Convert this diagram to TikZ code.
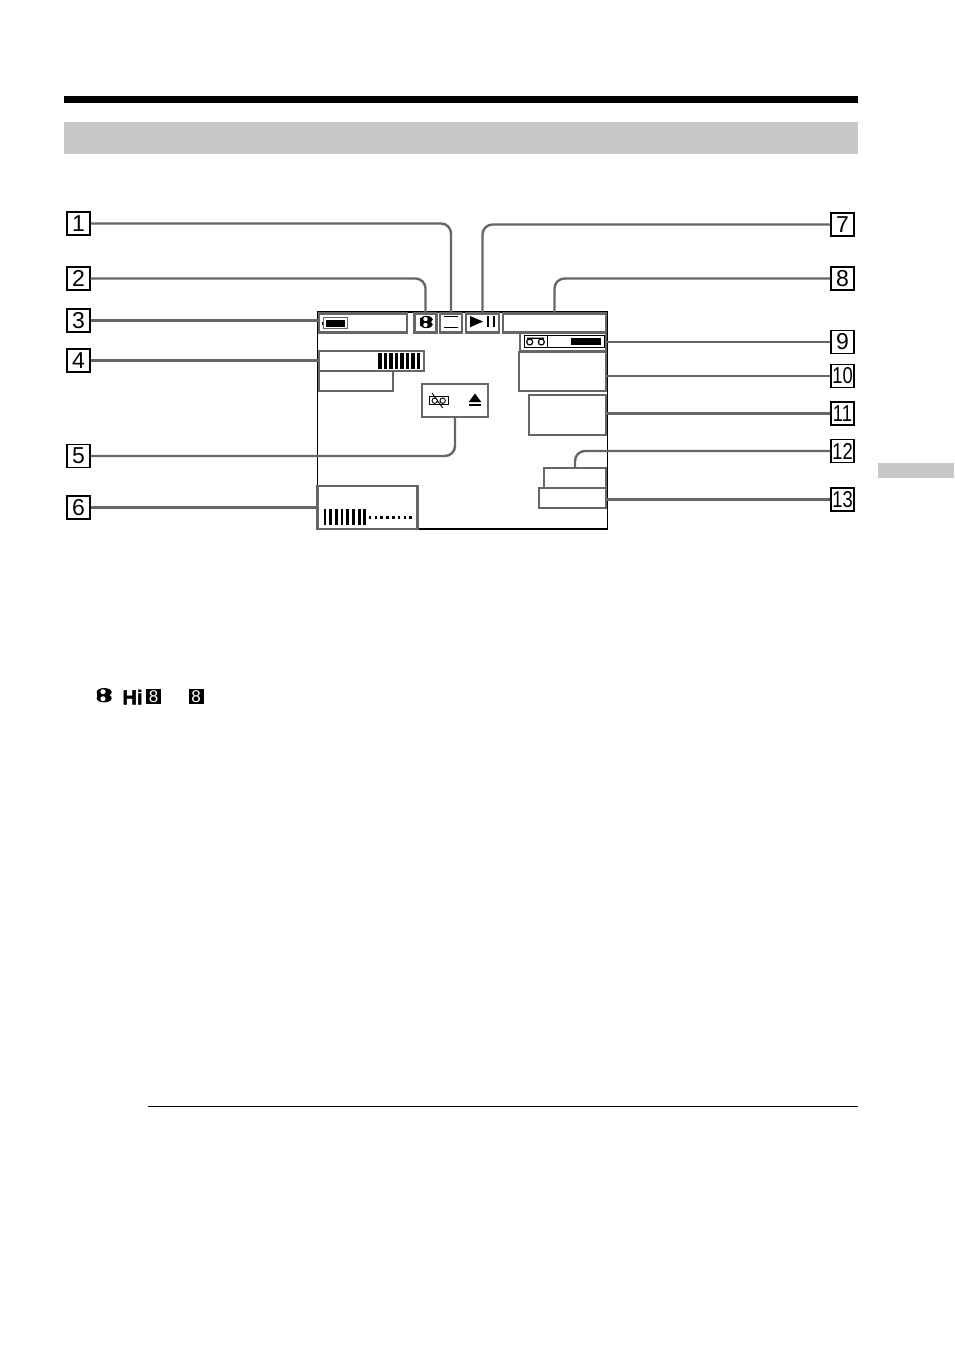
\documentclass[tikz,border=0pt]{standalone}
\usepackage{graphicx}
\usepackage{fontspec}
\setmainfont{Liberation Sans}
\newfontfamily\hifont[BoldFeatures={FakeBold=2.5}]{Liberation Sans}
\usepackage{tikz}
\usetikzlibrary{positioning}
\definecolor{panelgrey}{HTML}{666666}
\definecolor{bandgrey}{HTML}{C8C8C8}
\newcommand{\hieightmark}[3]{%
\begin{scope}[shift={(#1,#2)},scale=#3]
\fill[black] (-7.5,-4.5) rectangle (0,4.5);
\fill[black] (0,-3) ellipse (7.5 and 4.2);
\fill[black] (0,3) ellipse (7.5 and 4.2);
\fill[white] (-1.2,-3.5) ellipse (2.6 and 2.5);
\fill[white] (-1.2,3.5) ellipse (2.6 and 2.5);
\end{scope}}
\begin{document}
\begin{tikzpicture}[x=1pt,y=-1pt,
labelbox/.style={draw=black,line width=1.2pt,fill=white,inner sep=0pt,
minimum width=23pt,minimum height=23pt,font=\fontsize{23}{23}\selectfont},
panel/.style={draw=panelgrey,line width=2.6pt,inner sep=0pt,outer sep=0pt,anchor=north west},
leader/.style={draw=panelgrey,line width=2.4pt,rounded corners=10pt},
eightbox/.style={fill=black,text=white,inner sep=0pt,minimum width=15pt,minimum height=15pt,
font=\fontsize{17}{17}\selectfont}
]
\fill[white] (0,0) rectangle (954,1355);
\useasboundingbox (0,0) rectangle (954,1355);
% page furniture
\fill[black] (64,96) rectangle (858,103);
\fill[bandgrey] (64,122) rectangle (858,154);
\fill[bandgrey] (878,463) rectangle (954,478);
\draw[black,line width=1pt] (148,1106) -- (858,1106);

% screen
\node[draw=black,line width=1.2pt,inner sep=0pt,outer sep=0pt,anchor=north west,minimum width=289.8pt,minimum height=217pt] (screen) at (317.5,312) {};
\node[panel,minimum width=88pt,minimum height=19pt] (battery) at (319,313.5) {};
\node[panel,minimum width=22pt,minimum height=19pt] (format) at (414.5,313.5) {};
\node[panel,minimum width=22pt,minimum height=19pt] (blank) at (440,313.5) {};
\node[panel,minimum width=33pt,minimum height=19pt] (play) at (466,313.5) {};
\node[panel,minimum width=103pt,minimum height=19pt] (counter) at (503,313.5) {};
\node[panel,minimum width=86pt,minimum height=18pt] (remain) at (520,333) {};
\node[panel,minimum width=87pt,minimum height=39pt] (date) at (519,352) {};
\node[panel,minimum width=77pt,minimum height=40pt] (clock) at (529,395) {};
\node[panel,minimum width=105pt,minimum height=20pt] (level) at (319,351) {};
\node[panel,minimum width=74pt,minimum height=20pt] (mode) at (319,371) {};
\node[panel,minimum width=66pt,minimum height=33pt] (warning) at (422,384) {};
\node[panel,minimum width=62pt,minimum height=20pt] (effect) at (544,468) {};
\node[panel,minimum width=67pt,minimum height=20pt] (audio) at (539,488) {};
\node[panel,minimum width=100pt,minimum height=43pt] (volume) at (317.5,486) {};

% labels
\node[labelbox] (a1) at (78.5,223.5) {1};
\node[labelbox] (a2) at (78.5,278.5) {2};
\node[labelbox] (a3) at (78.5,320.5) {3};
\node[labelbox] (a4) at (78.5,360.5) {4};
\node[labelbox] (a5) at (78.5,456) {5};
\node[labelbox] (a6) at (78.5,507.5) {6};
\node[labelbox] (a7) at (842.5,224.5) {7};
\node[labelbox] (a8) at (842.5,278.5) {8};
\node[labelbox] (a9) at (842.5,342) {9};
\node[labelbox] (a10) at (842.5,376) {\scalebox{.8}[1]{10}};
\node[labelbox] (a11) at (842.5,413.5) {\scalebox{.8}[1]{11}};
\node[labelbox] (a12) at (842.5,451) {\scalebox{.8}[1]{12}};
\node[labelbox] (a13) at (842.5,499.5) {\scalebox{.8}[1]{13}};

% leaders
\draw[leader] (a1.east) -| (blank.north);
\draw[leader] (a2.east) -| (format.north);
\draw[leader] (a3.east) -- (a3.east -| battery.west);
\draw[leader] (a4.east) -- (a4.east -| level.west);
\draw[leader] (a5.east) -| (warning.south);
\draw[leader] (a6.east) -- (a6.east -| volume.west);
\draw[leader] (a7.west) -| (play.north);
\draw[leader] (a8.west) -| (counter.north);
\draw[leader] (a9.west) -- (a9.west -| remain.east);
\draw[leader] (a10.west) -- (a10.west -| date.east);
\draw[leader] (a11.west) -- (a11.west -| clock.east);
\draw[leader] (a12.west) -| (effect.north);
\draw[leader] (a13.west) -- (a13.west -| audio.east);

% battery
\draw[panelgrey,line width=.8pt] (323,317.5) rectangle (347,328.5);
\fill[black] (326,319.5) rectangle (345,326.5);
\fill[black] (321.5,321.5) rectangle (323,324.5);
% format mark
\hieightmark{426.5}{322}{.85}
% blank and play
\draw[black,line width=1pt] (444,327.7) -- (458,327.7);
\draw[black,line width=1pt] (444,316.5) -- (458,316.5);
\fill[black] (470,316) -- (483,321.5) -- (470,327.3) -- cycle;
\fill[black] (486.7,316) rectangle (488.9,327.3);
\fill[black] (492.7,316) rectangle (494.9,327.3);
% level bars
\foreach \i in {0,...,7} \fill[black] (378.3+5.5*\i,352.7) rectangle (381.6+5.5*\i,368.7);
% tape remain
\draw[black,line width=1.2pt] (524.7,335.3) rectangle (604.5,347.7);
\draw[black,line width=1.2pt] (547.3,335.3) -- (547.3,347.7);
\draw[black,line width=1.2pt] (529.7,342) circle (3) (541.3,342) circle (3) (527,338.2) -- (544,338.2);
\fill[black] (571.3,338.3) rectangle (601.3,345);
% warning icons
\draw[black,line width=.9pt] (429.5,396.3) rectangle (448.5,404.3);
\draw[black,line width=.9pt] (434.7,400.7) circle (2.7) (442.7,400.7) circle (2.7) (432,393) -- (442.7,408);
\fill[black] (468.7,402) -- (475,393.5) -- (481.3,402) -- cycle;
\fill[black] (468.7,403.7) rectangle (481.3,405.7);
% volume bars
\foreach \i in {0,...,7} \fill[black] (323.5+5.7*\i,509.3) rectangle (326.3+5.7*\i,525);
\foreach \i in {0,...,7} \fill[black] (368.7+5.8*\i,516) rectangle (371.3+5.8*\i,518.5);

% format marks below
\hieightmark{104.2}{695.2}{1}
\node[inner sep=0pt,font=\fontsize{20}{20}\selectfont\hifont\bfseries] (hi) at (132.5,697) {Hi};
\node[eightbox] (hieight) at (153.5,696.5) {8};
\node[eightbox] (eight) at (196,696.5) {8};
\end{tikzpicture}
\end{document}
